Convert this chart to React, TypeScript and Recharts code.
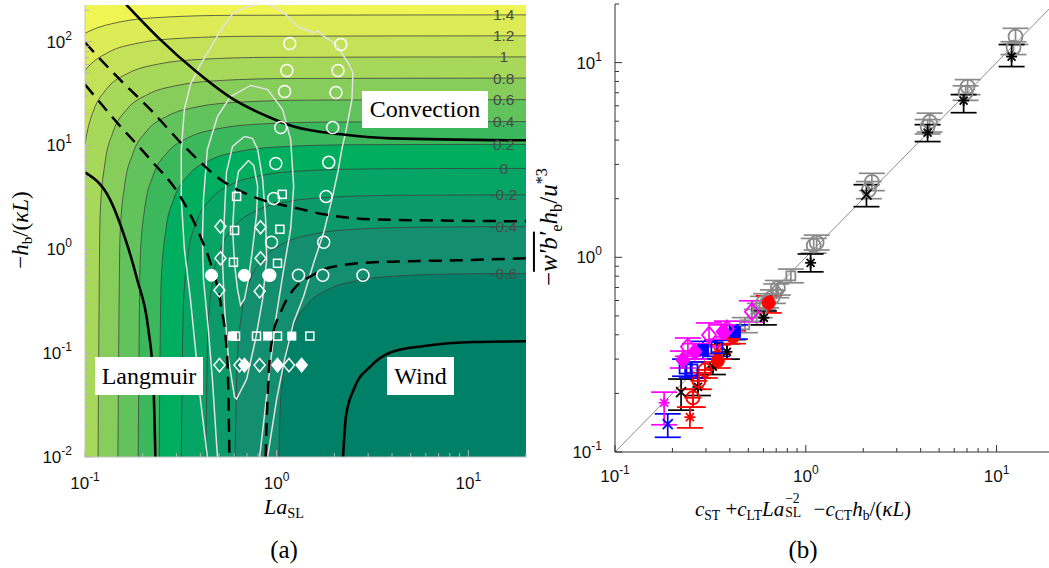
import React from "react";
import { Area, ComposedChart, ErrorBar, Line, Scatter, XAxis, YAxis } from "recharts";

// ---------- panel (a) ----------
const LA_MIN = 0.1;
const LA_MAX = 20;
const Y_MIN = 0.01;
const Y_MAX = 225;

const laTicks = [0.1, 0.2, 0.3, 0.4, 0.5, 0.6, 0.7, 0.8, 0.9, 1, 2, 3, 4, 5, 6, 7, 8, 9, 10, 20];
const hTicks = [
  0.01, 0.02, 0.03, 0.04, 0.05, 0.06, 0.07, 0.08, 0.09, 0.1, 0.2, 0.3, 0.4, 0.5, 0.6, 0.7, 0.8, 0.9, 1, 2, 3, 4, 5, 6, 7,
  8, 9, 10, 20, 30, 40, 50, 60, 70, 80, 90, 100, 200,
];
const laMajor = [0.1, 1, 10];
const hMajor = [0.01, 0.1, 1, 10, 100];

// contour levels and the colour of the band just above each level
const levels = ["-0.6", "-0.4", "-0.2", "0", "0.2", "0.4", "0.6", "0.8", "1", "1.2", "1.4"];
const levelRight = [0.587, 1.652, 3.34, 6.01, 10.25, 16.97, 27.6, 44.5, 71.2, 113.6, 180.8];
const baseColor = "#008066";
const bandColors = [
  "#138f70", "#0c9a6a", "#06a465", "#00ae5f", "#3cb85c", "#62c35c", "#86cd5b", "#a8d85a", "#c4e258", "#dceb56", "#eff553",
];

// contour lines (La, -h/(kL))
const cM06 = [[1.027, 0.01], [1.044, 0.0293], [1.105, 0.088], [1.217, 0.176], [1.44, 0.293], [1.859, 0.411], [2.629, 0.499], [4.553, 0.558], [10.18, 0.581], [20, 0.585]];
const cM04 = [[0.607, 0.01], [0.6228, 0.0826], [0.6586, 0.248], [0.7254, 0.496], [0.8583, 0.826], [1.108, 1.156], [1.567, 1.404], [2.714, 1.569], [6.07, 1.635], [20, 1.65]];
const cM02 = [[0.4269, 0.01], [0.438, 0.167], [0.4632, 0.5], [0.5101, 1.0], [0.6036, 1.67], [0.7795, 2.34], [1.102, 2.84], [1.909, 3.17], [4.269, 3.31], [20, 3.34]];
const c00 = [[0.3181, 0.01], [0.3264, 0.3], [0.3451, 0.9], [0.3801, 1.8], [0.4498, 3.0], [0.5808, 4.21], [0.8213, 5.11], [1.4226, 5.71], [3.181, 5.95], [20, 6.01]];
const c02 = [[0.2436, 0.01], [0.2499, 0.513], [0.2643, 1.54], [0.2911, 3.08], [0.3445, 5.13], [0.4448, 7.18], [0.629, 8.71], [1.089, 9.74], [2.436, 10.15], [20, 10.25]];
const c04 = [[0.1894, 0.01], [0.1943, 0.85], [0.2055, 2.55], [0.2263, 5.09], [0.2678, 8.49], [0.3458, 11.88], [0.489, 14.42], [0.847, 16.12], [1.894, 16.8], [20, 16.97]];
const c06 = [[0.1485, 0.01], [0.1524, 1.38], [0.1611, 4.14], [0.1775, 8.28], [0.21, 13.8], [0.2712, 19.32], [0.3834, 23.46], [0.664, 26.2], [1.485, 27.3], [20, 27.6]];
const c08 = [[0.117, 0.01], [0.12, 2.23], [0.127, 6.68], [0.1398, 13.35], [0.1654, 22.25], [0.2136, 31.15], [0.302, 37.8], [0.523, 42.3], [1.17, 44.1], [20, 44.5]];
const c10 = [[0.1, 10.36], [0.1033, 14.2], [0.1105, 21.4], [0.1307, 35.6], [0.1688, 49.8], [0.2387, 60.5], [0.4134, 67.6], [0.924, 70.5], [20, 71.2]];
const c12 = [[0.1, 52.7], [0.1035, 56.8], [0.1336, 79.5], [0.189, 96.6], [0.3273, 107.9], [0.732, 112.5], [20, 113.6]];
const c14 = [[0.1, 119.9], [0.1059, 126.6], [0.1498, 153.7], [0.2595, 171.8], [0.58, 179.0], [20, 180.8]];
const contours = [cM06, cM04, cM02, c00, c02, c04, c06, c08, c10, c12, c14];

// regime boundaries
const convection = [[0.164, 227], [0.238, 111.7], [0.386, 50.3], [0.596, 27.7], [0.897, 19.0], [1.227, 15.2], [2.163, 12.8], [3.95, 11.7], [20, 11.2]];
const langmuir = [[0.1, 5.5], [0.135, 3.02], [0.156, 1.56], [0.187, 0.515], [0.214, 0.17], [0.227, 0.0562], [0.233, 0.01]];
const wind = [[2.22, 0.01], [2.3, 0.0248], [2.53, 0.0451], [3.1, 0.075], [3.95, 0.102], [5.89, 0.117], [10.7, 0.128], [20, 0.13]];
const dashA = [[0.1, 98], [0.14, 50.3], [0.219, 22.2], [0.342, 9.15], [0.509, 4.71], [0.825, 3.02], [1.227, 2.53], [1.762, 2.17], [3.22, 1.94], [20, 1.86]];
const dashB = [[0.1, 38.6], [0.147, 16.6], [0.219, 7.33], [0.314, 3.23], [0.391, 1.46], [0.462, 0.642], [0.509, 0.309], [0.554, 0.0819], [0.567, 0.01]];
const dashC = [[0.876, 0.01], [0.897, 0.0386], [0.953, 0.146], [1.05, 0.248], [1.227, 0.412], [1.507, 0.55], [1.917, 0.671], [3.22, 0.75], [8.87, 0.784], [20, 0.82]];

// joint pdf contours (white)
const pdf1 = [[0.713, 7.17], [0.632, 5.62], [0.603, 3.38], [0.589, 1.56], [0.603, 0.718], [0.625, 0.412], [0.648, 0.29], [0.679, 0.331], [0.713, 0.515], [0.748, 1.0], [0.786, 2.17], [0.796, 4.04], [0.759, 6.42], [0.713, 7.17]];
const pdf2 = [[0.679, 12.2], [0.589, 9.78], [0.547, 5.5], [0.535, 2.27], [0.521, 0.8], [0.535, 0.265], [0.561, 0.0875], [0.603, 0.0378], [0.618, 0.0361], [0.697, 0.0562], [0.776, 0.136], [0.845, 0.331], [0.887, 0.8], [0.876, 1.94], [0.845, 4.71], [0.796, 9.15], [0.748, 11.7], [0.679, 12.2]];
const pdf3 = [[0.491, 0.01], [0.462, 0.0562], [0.44, 0.17], [0.415, 0.515], [0.41, 1.25], [0.415, 3.02], [0.435, 9.15], [0.491, 19.0], [0.574, 29.6], [0.731, 37.8], [0.897, 34.5], [1.074, 22.2], [1.183, 11.4], [1.227, 4.04], [1.183, 1.56], [1.088, 0.642], [0.989, 0.212], [0.908, 0.0562], [0.815, 0.01]];
const pdf4 = [[0.435, 0.01], [0.4, 0.0361], [0.377, 0.109], [0.355, 0.331], [0.33, 1.0], [0.318, 3.02], [0.318, 9.15], [0.33, 22.2], [0.355, 38.6], [0.4, 60.1], [0.462, 93.6], [0.521, 136], [0.596, 190], [0.705, 217], [0.825, 232], [0.953, 222], [1.114, 182], [1.288, 139], [1.45, 128], [1.563, 122], [1.65, 126], [1.762, 112], [1.987, 97.8], [2.1, 88], [2.244, 71.8], [2.355, 62.8], [2.5, 50.3], [2.471, 27.7], [2.323, 15.2], [2.188, 9.15], [2.085, 5.5], [1.941, 3.02], [1.762, 1.46], [1.563, 0.75], [1.384, 0.353], [1.227, 0.199], [1.101, 0.0875], [1.0, 0.0361], [0.897, 0.01]];

// LES cases (white markers)
const wOpenCircle = [[1.17, 95.7], [1.13, 52.6], [1.1, 33.0], [1.05, 14.9], [0.99, 6.71], [0.965, 3.09], [0.94, 1.17], [0.92, 0.562], [2.16, 93.6], [2.09, 52.6], [2.04, 32.3], [1.96, 14.9], [1.87, 6.87], [1.81, 3.23], [1.76, 1.17], [1.74, 0.562], [1.3, 0.562], [2.82, 0.562]];
const wFilledCircle = [[0.457, 0.562], [0.679, 0.562], [0.908, 0.562]];
const wOpenSquare = [[0.618, 3.23], [1.07, 3.38], [0.603, 1.52], [1.04, 1.56], [0.595, 0.75], [1.01, 0.733], [0.61, 0.146], [0.785, 0.146], [1.01, 0.146], [1.49, 0.146]];
const wFilledSquare = [[0.589, 0.146], [0.897, 0.146], [1.2, 0.146]];
const wOpenDiamond = [[0.509, 1.66], [0.824, 1.63], [0.509, 0.819], [0.824, 0.819], [0.503, 0.403], [0.815, 0.394], [0.503, 0.0767], [0.64, 0.0767], [0.815, 0.0767], [1.16, 0.0767]];
const wFilledDiamond = [[0.679, 0.0767], [1.01, 0.0767], [1.35, 0.0767]];

// ---------- panel (b) ----------
const B_MIN = 0.1;
const B_MAX = 20;
const bTicks = [0.1, 0.2, 0.3, 0.4, 0.5, 0.6, 0.7, 0.8, 0.9, 1, 2, 3, 4, 5, 6, 7, 8, 9, 10, 20];
const bMajor = [0.1, 1, 10];
const oneToOne = [[0.1, 0.1], [20, 20]];

// x, y, lower, upper
const grayCircle = [[12.57, 13.6, 12.4, 15.0], [12.27, 11.95, 11.0, 12.8], [7.05, 7.53, 6.85, 8.18], [6.88, 7.01, 6.4, 7.6], [4.46, 4.97, 4.4, 5.5], [4.35, 4.69, 4.3, 5.1], [2.22, 2.44, 2.2, 2.7], [2.14, 2.22, 2.0, 2.45], [1.14, 1.19, 1.09, 1.3], [1.1, 1.15, 1.05, 1.25], [0.714, 0.697, 0.64, 0.76], [0.672, 0.627, 0.58, 0.68], [0.596, 0.584, 0.54, 0.63], [0.574, 0.537, 0.49, 0.58]];
const graySquare = [[0.835, 0.803, 0.74, 0.87], [0.553, 0.494, 0.45, 0.54], [0.479, 0.45, 0.41, 0.49], [0.415, 0.409, 0.375, 0.445]];
const grayDiamond = [[0.7, 0.67, 0.62, 0.73], [0.62, 0.6, 0.55, 0.65]];
const blackStar = [[11.99, 10.74, 9.54, 12.38], [6.72, 6.38, 5.53, 6.85], [4.35, 4.37, 3.93, 4.8], [1.06, 0.937, 0.842, 1.04], [0.603, 0.489, 0.45, 0.53], [0.386, 0.327, 0.3, 0.36], [0.326, 0.274, 0.25, 0.3], [0.272, 0.216, 0.195, 0.24]];
const blackX = [[2.08, 2.1, 1.82, 2.36], [0.222, 0.203, 0.164, 0.237]];
const redFilled = [[0.64, 0.584, 0.518, 0.634], [0.415, 0.39, 0.36, 0.42], [0.346, 0.294, 0.27, 0.32]];
const redPlus = [[0.296, 0.264, 0.24, 0.29], [0.275, 0.232, 0.21, 0.255], [0.256, 0.19, 0.17, 0.21]];
const redStar = [[0.346, 0.327, 0.3, 0.355], [0.247, 0.151, 0.133, 0.17]];
const blueFilled = [[0.425, 0.414, 0.38, 0.45], [0.289, 0.334, 0.3, 0.37]];
const blueOpen = [[0.342, 0.343, 0.31, 0.375], [0.233, 0.27, 0.245, 0.3], [0.253, 0.264, 0.24, 0.29]];
const blueX = [[0.189, 0.139, 0.119, 0.157]];
const magOpen = [[0.522, 0.525, 0.466, 0.598], [0.311, 0.399, 0.347, 0.46], [0.386, 0.429, 0.39, 0.47], [0.241, 0.347, 0.31, 0.385]];
const magFilled = [[0.368, 0.414, 0.38, 0.45], [0.262, 0.327, 0.3, 0.36], [0.227, 0.297, 0.27, 0.33]];
const magX = [[0.181, 0.179, 0.138, 0.203]];

const SANS = "'Liberation Sans', Arial, sans-serif";
const SERIF = "'Liberation Serif', 'DejaVu Serif', serif";

const xy = (pts: number[][]) => pts.map(([x, y]) => ({ x, y }));
const band = (pts: number[][]) =>
  (pts[0][0] > LA_MIN ? [[LA_MIN, Y_MIN], ...pts] : pts).map(([x, y]) => ({ x, r: [y, Y_MAX] }));
const withErr = (pts: number[][]) => pts.map(([x, y, lo, hi]) => ({ x, y, e: [y - lo, hi - y] }));

function LogTick(props: any) {
  const { x, y, payload, side, majors, stroke, color, off } = props;
  const v = payload.value;
  const major = majors.includes(v);
  const len = major ? 7 : 4;
  const exp = String(Math.round(Math.log10(v)));
  if (side === "left") {
    return (
      <g>
        <line x1={x} y1={y} x2={x + len} y2={y} stroke={stroke} strokeWidth={1} />
        {major && (
          <text x={x - 13} y={y + 6} textAnchor="end" fontSize={17} fill={color} fontFamily={SANS}>
            10
            <tspan fontSize={12} dy={-8}>{exp}</tspan>
          </text>
        )}
      </g>
    );
  }
  return (
    <g>
      <line x1={x} y1={y} x2={x} y2={y - len} stroke={stroke} strokeWidth={1} />
      {major && (
        <text x={x} y={y + off} textAnchor="middle" fontSize={17} fill={color} fontFamily={SANS}>
          10
          <tspan fontSize={12} dy={-8}>{exp}</tspan>
        </text>
      )}
    </g>
  );
}

function Mark(props: any) {
  const { cx, cy, kind, color, s, w } = props;
  if (cx == null || cy == null) return null;
  const sw = w || 1.5;
  switch (kind) {
    case "oc":
      return <circle cx={cx} cy={cy} r={s} fill="none" stroke={color} strokeWidth={sw} />;
    case "fc":
      return <circle cx={cx} cy={cy} r={s} fill={color} stroke={color} strokeWidth={1} />;
    case "os":
      return <rect x={cx - s} y={cy - s} width={2 * s} height={2 * s} fill="none" stroke={color} strokeWidth={sw} />;
    case "fs":
      return <rect x={cx - s} y={cy - s} width={2 * s} height={2 * s} fill={color} stroke={color} />;
    case "od":
    case "fd": {
      const pts = `${cx},${cy - s * 1.2} ${cx + s},${cy} ${cx},${cy + s * 1.2} ${cx - s},${cy}`;
      return <polygon points={pts} fill={kind === "fd" ? color : "none"} stroke={color} strokeWidth={sw} />;
    }
    case "cp":
      return (
        <g stroke={color} strokeWidth={sw} fill="none">
          <circle cx={cx} cy={cy} r={s} />
          <line x1={cx - s - 2} y1={cy} x2={cx + s + 2} y2={cy} />
          <line x1={cx} y1={cy - s - 2} x2={cx} y2={cy + s + 2} />
        </g>
      );
    case "x":
      return (
        <g stroke={color} strokeWidth={sw}>
          <line x1={cx - s} y1={cy - s} x2={cx + s} y2={cy + s} />
          <line x1={cx - s} y1={cy + s} x2={cx + s} y2={cy - s} />
        </g>
      );
    default: {
      const d = s * 0.72;
      return (
        <g stroke={color} strokeWidth={sw}>
          <line x1={cx - s} y1={cy} x2={cx + s} y2={cy} />
          <line x1={cx} y1={cy - s} x2={cx} y2={cy + s} />
          <line x1={cx - d} y1={cy - d} x2={cx + d} y2={cy + d} />
          <line x1={cx - d} y1={cy + d} x2={cx + d} y2={cy - d} />
        </g>
      );
    }
  }
}

const whiteMarks = [
  { pts: wOpenCircle, kind: "oc", s: 6 },
  { pts: wFilledCircle, kind: "fc", s: 6 },
  { pts: wOpenSquare, kind: "os", s: 4 },
  { pts: wFilledSquare, kind: "fs", s: 4 },
  { pts: wOpenDiamond, kind: "od", s: 5.5 },
  { pts: wFilledDiamond, kind: "fd", s: 5.5 },
];

const bSeries = [
  { pts: grayCircle, kind: "oc", color: "#8a8a8a", s: 7 },
  { pts: graySquare, kind: "os", color: "#8a8a8a", s: 4.5 },
  { pts: grayDiamond, kind: "od", color: "#8a8a8a", s: 6 },
  { pts: blackStar, kind: "ast", color: "#000000", s: 5.5 },
  { pts: blackX, kind: "x", color: "#000000", s: 5 },
  { pts: redPlus, kind: "cp", color: "#ff0000", s: 6.5 },
  { pts: redStar, kind: "ast", color: "#ff0000", s: 5.5 },
  { pts: redFilled, kind: "fc", color: "#ff0000", s: 6.5 },
  { pts: blueOpen, kind: "os", color: "#0000ff", s: 5.5 },
  { pts: blueFilled, kind: "fs", color: "#0000ff", s: 5.5 },
  { pts: blueX, kind: "x", color: "#0000ff", s: 5 },
  { pts: magOpen, kind: "od", color: "#ff00ff", s: 7 },
  { pts: magFilled, kind: "fd", color: "#ff00ff", s: 6.5 },
  { pts: magX, kind: "ast", color: "#ff00ff", s: 5.5 },
];

function PanelA() {
  const labelData = levels.map((t, i) => ({ x: 15.3, y: levelRight[i], t }));
  return (
    <ComposedChart width={540} height={568} margin={{ top: 5, right: 14, bottom: 0, left: 0 }}>
      <XAxis
        type="number" dataKey="x" scale="log" domain={[LA_MIN, LA_MAX]} allowDataOverflow ticks={laTicks} interval={0}
        height={111} tickSize={0} tickMargin={0} tickLine={false} axisLine={{ stroke: "#c4c4c4" }}
        tick={(p: any) => <LogTick {...p} side="bottom" majors={laMajor} stroke="#b5b5b5" color="#111" off={32} />}
      />
      <YAxis
        type="number" dataKey="y" scale="log" domain={[Y_MIN, Y_MAX]} allowDataOverflow ticks={hTicks} interval={0}
        width={85} tickSize={0} tickMargin={0} tickLine={false} axisLine={{ stroke: "#c4c4c4" }}
        tick={(p: any) => <LogTick {...p} side="left" majors={hMajor} stroke="#b5b5b5" color="#111" />}
      />
      <Area
        data={[{ x: LA_MIN, r: [Y_MIN, Y_MAX] }, { x: LA_MAX, r: [Y_MIN, Y_MAX] }]}
        dataKey="r" type="linear" fill={baseColor} fillOpacity={1} stroke="none" isAnimationActive={false}
      />
      {contours.map((c, i) => (
        <Area
          key={"b" + i} data={band(c)} dataKey="r" type="monotone" fill={bandColors[i]} fillOpacity={1}
          stroke="none" isAnimationActive={false}
        />
      ))}
      {contours.map((c, i) => (
        <Line
          key={"c" + i} data={xy(c)} dataKey="y" type="monotone" stroke="#3c3c3c" strokeOpacity={0.85}
          strokeWidth={0.9} dot={false} activeDot={false} isAnimationActive={false}
        />
      ))}
      {[pdf1, pdf2, pdf3, pdf4].map((c, i) => (
        <Line
          key={"p" + i} data={xy(c)} dataKey="y" type="linear" stroke="#e2e2e2" strokeWidth={1.5}
          dot={false} activeDot={false} isAnimationActive={false}
        />
      ))}
      {[dashA, dashB, dashC].map((c, i) => (
        <Line
          key={"d" + i} data={xy(c)} dataKey="y" type="monotone" stroke="#000" strokeWidth={2.5}
          strokeDasharray="13 8" dot={false} activeDot={false} isAnimationActive={false}
        />
      ))}
      {[convection, langmuir, wind].map((c, i) => (
        <Line
          key={"s" + i} data={xy(c)} dataKey="y" type="monotone" stroke="#000" strokeWidth={2.6}
          dot={false} activeDot={false} isAnimationActive={false}
        />
      ))}
      <Scatter
        data={labelData} isAnimationActive={false}
        shape={(p: any) =>
          p.cx == null ? <g /> : (
            <text x={p.cx} y={p.cy + 5.5} textAnchor="middle" fontSize={15.5} fill="#4a4a4a" fontFamily={SANS}>
              {p.payload.t}
            </text>
          )
        }
      />
      {whiteMarks.map((m, i) => (
        <Scatter
          key={"w" + i} data={xy(m.pts)} isAnimationActive={false}
          shape={(p: any) => <Mark {...p} kind={m.kind} color="#ffffff" s={m.s} />}
        />
      ))}
    </ComposedChart>
  );
}

function PanelB() {
  return (
    <ComposedChart width={514} height={568} margin={{ top: 4, right: 0, bottom: 0, left: 0 }}>
      <XAxis
        type="number" dataKey="x" scale="log" domain={[B_MIN, B_MAX]} allowDataOverflow ticks={bTicks} interval={0}
        height={116} tickSize={0} tickMargin={0} tickLine={false} axisLine={{ stroke: "#333" }}
        tick={(p: any) => <LogTick {...p} side="bottom" majors={bMajor} stroke="#333" color="#111" off={30} />}
      />
      <YAxis
        type="number" dataKey="y" scale="log" domain={[B_MIN, B_MAX]} allowDataOverflow ticks={bTicks} interval={0}
        width={75} tickSize={0} tickMargin={0} tickLine={false} axisLine={{ stroke: "#333" }}
        tick={(p: any) => <LogTick {...p} side="left" majors={bMajor} stroke="#333" color="#111" />}
      />
      <Line
        data={xy(oneToOne)} dataKey="y" type="linear" stroke="#8c8c8c" strokeWidth={1} dot={false}
        activeDot={false} isAnimationActive={false}
      />
      {bSeries.map((sr, i) => (
        <Scatter
          key={"b" + i} data={withErr(sr.pts)} isAnimationActive={false}
          shape={(p: any) => <Mark {...p} kind={sr.kind} color={sr.color} s={sr.s} w={1.8} />}
        >
          <ErrorBar dataKey="e" direction="y" width={13} stroke={sr.color} strokeWidth={1.7} />
        </Scatter>
      ))}
    </ComposedChart>
  );
}

const abs = (left: number, top: number, extra: React.CSSProperties = {}): React.CSSProperties => ({
  position: "absolute", left, top, transform: "translate(-50%, -50%)", whiteSpace: "nowrap",
  fontFamily: SERIF, color: "#000", lineHeight: 1.2, ...extra,
});
const box = (left: number, top: number, width: number, height: number): React.CSSProperties => ({
  position: "absolute", left, top, width, height, background: "#fff", display: "flex",
  alignItems: "center", justifyContent: "center", fontFamily: SERIF, fontSize: 24, color: "#000",
});
const sub: React.CSSProperties = { fontSize: "0.65em", verticalAlign: "-0.3em", fontStyle: "normal" };
const sup: React.CSSProperties = { fontSize: "0.65em", verticalAlign: "0.6em", fontStyle: "normal" };

export default function App() {
  return (
    <div style={{ position: "fixed", left: 0, top: 0, width: 1049, height: 568, overflow: "hidden", background: "#fff" }}>
      <div style={{ position: "absolute", left: 0, top: 0 }}>
        <PanelA />
      </div>
      <div style={{ position: "absolute", left: 540, top: 0 }}>
        <PanelB />
      </div>

      <div style={box(362, 91, 126, 37)}><span style={{ fontFamily: SERIF }}>Convection</span></div>
      <div style={box(95, 357, 108, 38)}><span style={{ fontFamily: SERIF }}>Langmuir</span></div>
      <div style={box(387, 357, 67, 38)}><span style={{ fontFamily: SERIF }}>Wind</span></div>

      <div style={abs(22, 230, { fontSize: 23, transform: "translate(-50%, -50%) rotate(-90deg)" })}>
        −<i>h</i><span style={sub}>b</span>/(<i>κL</i>)
      </div>
      <div style={abs(284, 508, { fontSize: 22 })}>
        <i>La</i><span style={sub}>SL</span>
      </div>
      <div style={abs(803, 510, { fontSize: 21 })}>
        <i>c</i><span style={sub}>ST</span> +<i>c</i><span style={sub}>LT</span><i>La</i>
        <span style={{ position: "relative", display: "inline-block", width: "1.15em", height: "1em", verticalAlign: "baseline" }}>
          <span style={{ position: "absolute", left: 1, top: "-0.3em", fontSize: "0.65em" }}>−2</span>
          <span style={{ position: "absolute", left: 1, top: "0.75em", fontSize: "0.65em" }}>SL</span>
        </span>{" "}
        −<i>c</i><span style={sub}>CT</span><i>h</i><span style={sub}>b</span>/(<i>κL</i>)
      </div>
      <div style={abs(550, 227, { fontSize: 25, transform: "translate(-50%, -50%) rotate(-90deg)" })}>
        −<span style={{ textDecoration: "overline" }}><i>w′b′</i></span><span style={sub}>e</span>
        <i>h</i><span style={sub}>b</span>/<i>u</i><span style={sup}>*3</span>
      </div>
      <div style={abs(284, 550, { fontSize: 25 })}>(a)</div>
      <div style={abs(803, 550, { fontSize: 25 })}>(b)</div>
    </div>
  );
}
